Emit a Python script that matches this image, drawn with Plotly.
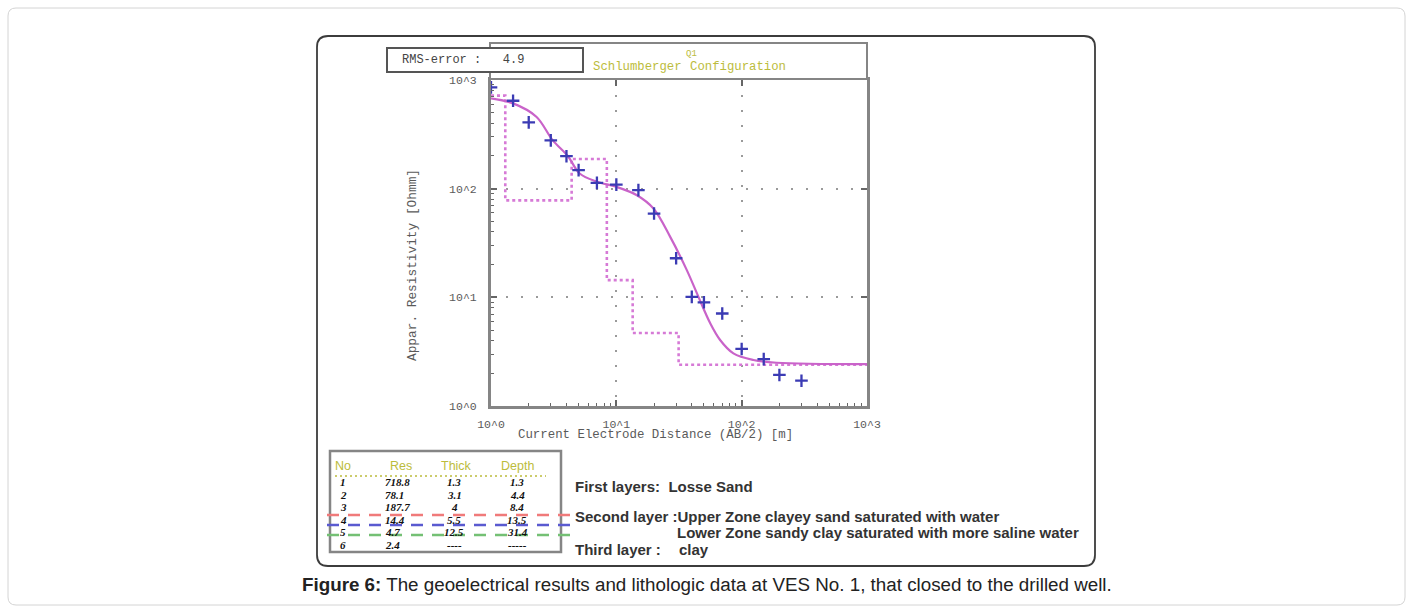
import plotly.graph_objects as go

W, H = 1413, 613

# ---- field measurements (AB/2 in m, apparent resistivity in Ohm-m)
ab2 = [1, 1.5, 2, 3, 4, 5, 7, 10, 15, 20, 30, 40, 50, 70, 100, 150, 200, 300]
rho_a = [855, 644, 407, 278, 199, 148, 113, 109, 97, 59, 22.9, 10.1, 9.0, 7.1,
         3.35, 2.7, 1.93, 1.71]

# ---- fitted apparent-resistivity curve
fit_x = [1, 1.5, 2.3, 3.1, 4.1, 5.1, 7.0, 10, 14.6, 19.7, 26.9, 36.5, 45.2,
         56, 67.3, 85.9, 124, 190, 1000]
fit_y = [677, 609, 459, 280, 200, 138, 116, 104, 87, 66, 36, 17.8, 10.1,
         5.8, 4.05, 3.05, 2.65, 2.5, 2.43]

# ---- inverted layer model
layer_no = ["1", "2", "3", "4", "5", "6"]
layer_res = [718.8, 78.1, 187.7, 14.4, 4.7, 2.4]
layer_thick = ["1.3", "3.1", "4", "5.5", "12.5", "----"]
layer_depth = [1.3, 4.4, 8.4, 13.5, 31.4]
depth_text = ["1.3", "4.4", "8.4", "13.5", "31.4", "-----"]

decades = [1, 10, 100, 1000]
decade_text = ["10^0", "10^1", "10^2", "10^3"]
minor_vals = [m * d for d in [1, 10, 100] for m in range(2, 10)]

layer_notes = [
    ("<b>First layers:  Losse Sand</b>", 573, 486),
    ("<b>Second layer :Upper Zone clayey sand saturated with water</b>", 573, 516),
    ("<b>Lower Zone sandy clay saturated with more saline water</b>", 675, 532),
    ("<b>Third layer :</b>", 573, 549),
    ("<b>clay</b>", 677, 549),
]

caption = ("<b>Figure 6:</b> The geoelectrical results and lithologic data at "
           "VES No. 1, that closed to the drilled well.")


def px(x):
    return x / W


def py(y):
    return 1 - y / H


MONO = "Liberation Mono, DejaVu Sans Mono, monospace"
SANS = "Liberation Sans, Arial, sans-serif"
SERIF = "Liberation Serif, Times New Roman, serif"
GRAY = "#5a5a5a"
OLIVE = "#bcbc3c"

fig = go.Figure()

# model step line
step_x = [1] + layer_depth + [1000]
step_y = layer_res + [layer_res[-1]]
fig.add_trace(go.Scatter(x=step_x, y=step_y, mode="lines", line_shape="hv",
                         line=dict(color="#d67ad6", width=2.6, dash="dot"),
                         hoverinfo="skip", showlegend=False))
# fitted curve
fig.add_trace(go.Scatter(x=fit_x, y=fit_y, mode="lines", line_shape="spline",
                         line=dict(color="#c963c9", width=2.2),
                         hoverinfo="skip", showlegend=False))
# measured points
fig.add_trace(go.Scatter(x=ab2, y=rho_a, mode="markers",
                         marker=dict(symbol="cross-thin", size=9,
                                     line=dict(color="#3b3bb4", width=2.3)),
                         showlegend=False))
# invisible trace to activate the mirrored tick axes
fig.add_trace(go.Scatter(x=[1], y=[1], xaxis="x2", yaxis="y2", mode="markers",
                         marker=dict(opacity=0), hoverinfo="skip", showlegend=False))

dom_x = [px(491), px(867)]
dom_y = [py(406), py(80)]

axis_common = dict(
    type="log", range=[0, 3], tickmode="array", tickvals=decades,
    ticktext=decade_text, ticks="inside", ticklen=6, tickwidth=1.5,
    tickcolor="#666", showline=True, linecolor="#858585", linewidth=3,
    mirror=True, showgrid=True, gridcolor="#9a9a9a", gridwidth=1.6,
    griddash="2px,13px", zeroline=False, automargin=False,
    tickfont=dict(family=MONO, size=11.5, color=GRAY),
    minor=dict(tickmode="array", tickvals=minor_vals, ticks="inside",
               ticklen=3, tickwidth=1.3, tickcolor="#666", showgrid=False),
)
mirror_axis = dict(type="log", range=[0, 3], tickmode="array", tickvals=decades,
                   ticks="inside", ticklen=6, tickwidth=1.5, tickcolor="#666",
                   showticklabels=False, showgrid=False, showline=False,
                   zeroline=False, automargin=False)

fig.update_layout(
    width=W, height=H, margin=dict(l=0, r=0, t=0, b=0, pad=0, autoexpand=False),
    paper_bgcolor="white", plot_bgcolor="white", showlegend=False,
    xaxis=dict(domain=dom_x, ticklabelstandoff=5, **axis_common),
    yaxis=dict(domain=dom_y, ticklabelstandoff=9, **axis_common),
    xaxis2=dict(domain=dom_x, overlaying="x", side="top", anchor="y2", **mirror_axis),
    yaxis2=dict(domain=dom_y, overlaying="y", side="right", anchor="x2", **mirror_axis),
)


def rounded_rect(x0, y0, x1, y1, r):
    X0, X1 = px(x0), px(x1)
    Y0, Y1 = py(y0), py(y1)
    rx, ry = r / W, r / H
    return (f"M {X0 + rx} {Y0} L {X1 - rx} {Y0} Q {X1} {Y0} {X1} {Y0 - ry} "
            f"L {X1} {Y1 + ry} Q {X1} {Y1} {X1 - rx} {Y1} "
            f"L {X0 + rx} {Y1} Q {X0} {Y1} {X0} {Y1 + ry} "
            f"L {X0} {Y0 - ry} Q {X0} {Y0} {X0 + rx} {Y0} Z")


shapes = []
# outer card and figure frame
shapes.append(dict(type="path", path=rounded_rect(8, 8, 1405, 605, 8),
                   xref="paper", yref="paper", line=dict(color="#d4d4d4", width=1),
                   layer="below"))
shapes.append(dict(type="path", path=rounded_rect(317, 36, 1095, 566, 11),
                   xref="paper", yref="paper", line=dict(color="#3c3c3c", width=1.8),
                   layer="below"))
# title strip above the plot
shapes.append(dict(type="rect", xref="paper", yref="paper",
                   x0=px(490), x1=px(867), y0=py(79), y1=py(43),
                   line=dict(color="#858585", width=2), fillcolor="white"))
# RMS box
shapes.append(dict(type="rect", xref="paper", yref="paper",
                   x0=px(387), x1=px(583), y0=py(72), y1=py(48),
                   line=dict(color="#555", width=2), fillcolor="white"))
# layer table frame
shapes.append(dict(type="rect", xref="paper", yref="paper",
                   x0=px(330), x1=px(561), y0=py(552), y1=py(451),
                   line=dict(color="#858585", width=2.5), fillcolor="white",
                   layer="below"))
# dotted rule under the table header
shapes.append(dict(type="line", xref="paper", yref="paper",
                   x0=px(335), x1=px(546), y0=py(476), y1=py(476),
                   line=dict(color=OLIVE, width=1.5, dash="2px,3px")))
# zone boundary markers
for yy, col in [(515, "#f07a7a"), (525, "#5a5ad0"), (535, "#74c074")]:
    shapes.append(dict(type="line", xref="paper", yref="paper",
                       x0=px(327), x1=px(571), y0=py(yy), y1=py(yy),
                       line=dict(color=col, width=2.5, dash="12px,9px")))

fig.update_layout(shapes=shapes)

ann = []


def text(t, x, y, size, color, family, xanchor="left", angle=0):
    ann.append(dict(text=t, x=px(x), y=py(y), xref="paper", yref="paper",
                    showarrow=False, xanchor=xanchor, yanchor="middle",
                    textangle=angle,
                    font=dict(size=size, color=color, family=family)))


# header texts
text("RMS-error :   4.9", 400, 60, 12, "#444", MONO)
text("Schlumberger", 591, 67, 12.3, OLIVE, MONO)
text("Q1", 684, 54, 9, OLIVE, MONO)
text("Configuration", 688, 67, 12.3, OLIVE, MONO)

# axis titles
text("Current Electrode Distance (AB/2) [m]", 655, 435, 12.4, GRAY, MONO,
     xanchor="center")
text("Appar. Resistivity [Ohmm]", 412, 265, 12.8, GRAY, MONO,
     xanchor="center", angle=-90)

# table header
for label, xx in [("No", 343), ("Res", 401), ("Thick", 456), ("Depth", 517)]:
    text(label, xx, 466, 12.5, OLIVE, SANS, xanchor="center")

row_y = [482, 494.5, 507, 519.5, 532, 544.5]
for i in range(6):
    yy = row_y[i]
    text(f"<b><i>{layer_no[i]}</i></b>", 338, yy, 11, "#111", SERIF)
    text(f"<b><i>{layer_res[i]}</i></b>", 383, yy, 11, "#111", SERIF)
    text(f"<b><i>{layer_thick[i]}</i></b>", 454, yy, 11, "#111", SERIF,
         xanchor="center")
    text(f"<b><i>{depth_text[i]}</i></b>", 517, yy, 11, "#111", SERIF,
         xanchor="center")

for t, xx, yy in layer_notes:
    text(t, xx, yy, 15, "#333", SANS)

text(caption, 707, 584, 18.8, "#222", SANS, xanchor="center")

fig.update_layout(annotations=ann)

fig.write_html("out.html")
